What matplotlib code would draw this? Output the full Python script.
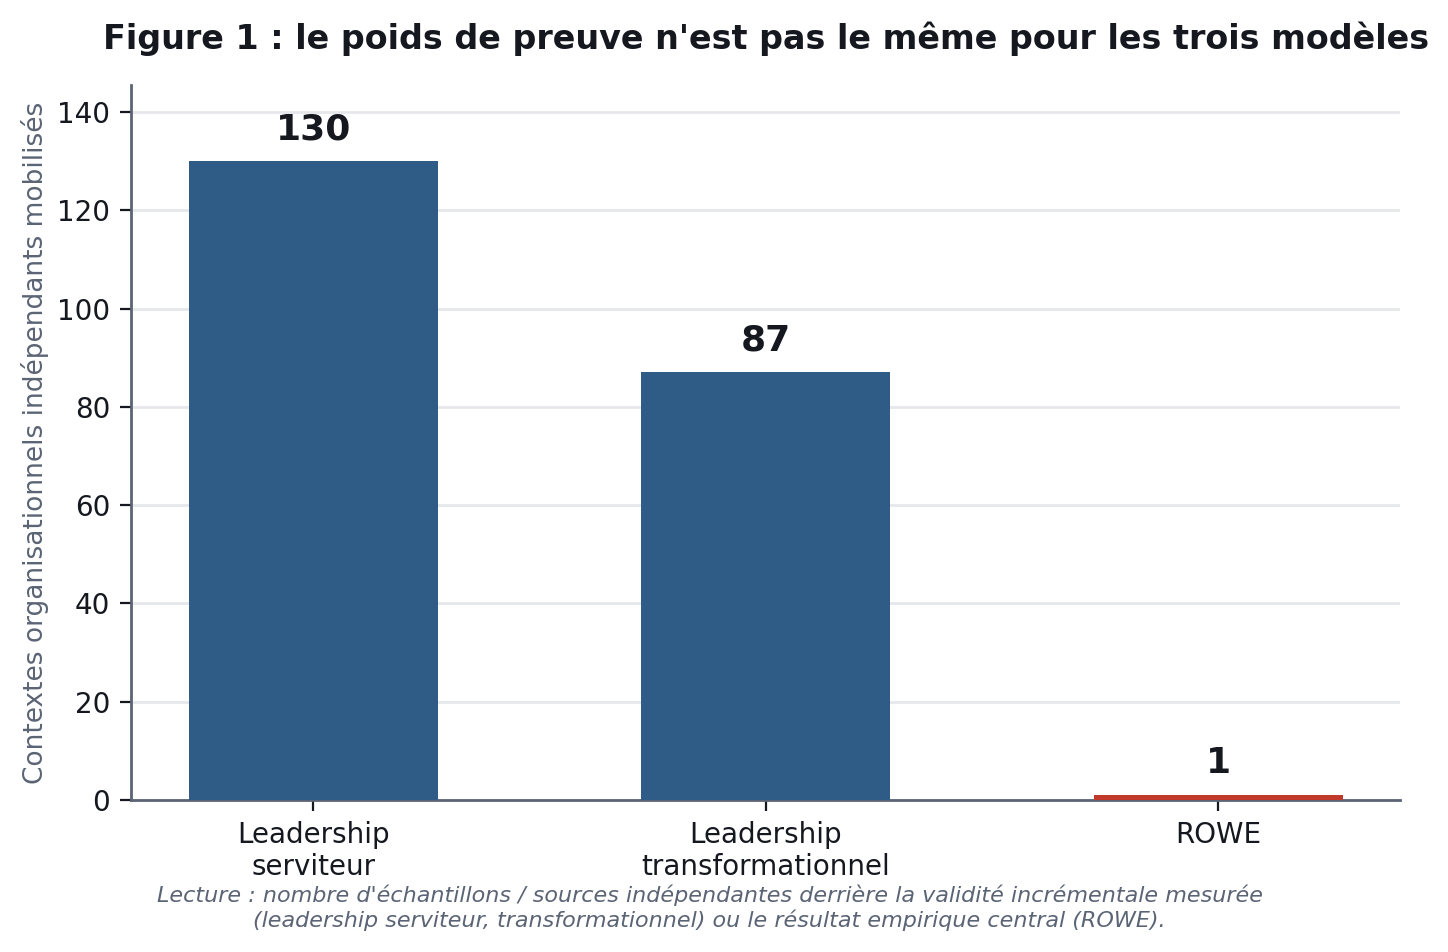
import matplotlib
matplotlib.use("Agg")
import matplotlib.pyplot as plt

# donnees
modeles = ["Leadership\nserviteur", "Leadership\ntransformationnel", "ROWE"]
contextes = [130, 87, 1]
couleurs = ["#2e5c87", "#2e5c87", "#c0392b"]

texte = "#16181f"
gris = "#5b6475"

fig = plt.figure(figsize=(7.24, 4.76), dpi=200)
ax = fig.add_axes([0.0905, 0.1597, 0.8765, 0.751])

x = range(len(modeles))
ax.bar(x, contextes, width=0.55, color=couleurs, zorder=3)
for i, v in zip(x, contextes):
    ax.text(i, v + 3, str(v), ha="center", va="bottom",
            fontsize=13, fontweight="bold", color=texte)

ax.set_ylim(0, 145.5)
ax.set_xticks(list(x))
ax.set_xticklabels(modeles, fontsize=10, color=texte)
ax.tick_params(axis="y", labelsize=10, labelcolor=texte)
ax.tick_params(colors=texte, length=4)
ax.yaxis.grid(True, color="#e6e7eb", linewidth=1, zorder=0)
ax.set_axisbelow(True)
for s in ["top", "right"]:
    ax.spines[s].set_visible(False)
for s in ["left", "bottom"]:
    ax.spines[s].set_color(gris)
    ax.spines[s].set_linewidth(1)

ax.set_ylabel("Contextes organisationnels indépendants mobilisés",
              fontsize=9.5, color=gris, labelpad=3)
ax.set_title("Figure 1 : le poids de preuve n'est pas le même pour les trois modèles",
             fontsize=12, fontweight="bold", color=texte, pad=13)

fig.text(0.49, 0.046,
         "Lecture : nombre d'échantillons / sources indépendantes derrière la validité incrémentale mesurée\n"
         "(leadership serviteur, transformationnel) ou le résultat empirique central (ROWE).",
         ha="center", va="center", fontsize=8, style="italic", color=gris)

fig.savefig("out.png", dpi=200)
